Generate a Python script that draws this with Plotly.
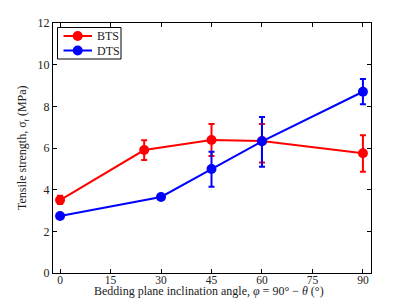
import plotly.graph_objects as go

bts_x = [0, 25, 45, 60, 90]
bts_y = [3.5, 5.9, 6.38, 6.34, 5.75]
bts_err_plus = [0.21, 0.47, 0.77, 0.81, 0.86]
bts_err_minus = [0.19, 0.48, 0.76, 1.04, 0.89]

dts_x = [0, 30, 45, 60, 90]
dts_y = [2.74, 3.65, 4.99, 6.32, 8.7]
dts_err_plus = [0.0, 0.0, 0.83, 1.17, 0.61]
dts_err_minus = [0.0, 0.0, 0.85, 1.22, 0.6]

x_ticks = [0, 15, 30, 45, 60, 75, 90]
y_ticks = [0, 2, 4, 6, 8, 10, 12]

series_names = ["BTS", "DTS"]
series_colors = ["#ff0000", "#0000ff"]

x_title = "Bedding plane inclination angle, <i>φ</i> = 90° − <i>θ</i> (°)"
y_title = "Tensile strength, σ<sub><i>t</i></sub> (MPa)"

font_family = "Liberation Serif"
OFF = 8  # default page body margin
W, H = 408 - 2 * OFF, 307 - 2 * OFF
# plot area in page pixels: x 53..371, y 23..273
ML = 53 - OFF
MT = 23 - OFF
MR = W - (371 - OFF)
MB = H - (273 - OFF)
PW, PH = W - ML - MR, H - MT - MB

fig = go.Figure()
for name, color, xs, ys, ep, em in [
    (series_names[0], series_colors[0], bts_x, bts_y, bts_err_plus, bts_err_minus),
    (series_names[1], series_colors[1], dts_x, dts_y, dts_err_plus, dts_err_minus),
]:
    fig.add_trace(go.Scatter(
        x=xs, y=ys, mode="lines+markers", name=name, showlegend=False,
        line=dict(color=color, width=2),
        marker=dict(color=color, size=10),
        error_y=dict(type="data", symmetric=False, array=ep, arrayminus=em,
                     color=color, thickness=2, width=3),
    ))

axis_common = dict(
    showline=True, linecolor="black", linewidth=1, mirror="ticks",
    ticks="inside", ticklen=4, tickcolor="black", showgrid=False, zeroline=False,
    automargin=False,
)

# helpers (page pixels -> paper coords)
def px(xp):
    return (xp - 53) / PW

def py(yp):
    return (273 - yp) / PH

text_font = dict(family=font_family, size=12, color="#222")

shapes = [dict(type="rect", xref="paper", yref="paper",
               x0=px(57.5), x1=px(121), y0=py(59), y1=py(27.5),
               line=dict(color="black", width=1), fillcolor="white", layer="above")]
annotations = []
for i, (name, color) in enumerate(zip(series_names, series_colors)):
    yrow = 36 + i * 14.5
    shapes.append(dict(type="line", xref="paper", yref="paper",
                       x0=px(63.5), x1=px(92), y0=py(yrow), y1=py(yrow),
                       line=dict(color=color, width=2), layer="above"))
    shapes.append(dict(type="circle", xref="paper", yref="paper",
                       x0=px(77.7 - 5), x1=px(77.7 + 5), y0=py(yrow + 5), y1=py(yrow - 5),
                       line=dict(color=color, width=0), fillcolor=color, layer="above"))
    annotations.append(dict(text=name, xref="paper", yref="paper",
                            x=px(94.5), y=py(yrow), xanchor="left", yanchor="middle",
                            showarrow=False, font=text_font))

annotations.append(dict(text=x_title, xref="paper", yref="paper",
                        x=px(209), y=py(299), xanchor="center", yanchor="bottom",
                        showarrow=False, borderpad=0,
                        font=dict(family=font_family, size=12, color="#222")))
annotations.append(dict(text=y_title, xref="paper", yref="paper",
                        x=px(23), y=py(148), xanchor="center", yanchor="middle",
                        textangle=-90, showarrow=False, font=text_font))

fig.update_layout(
    width=W, height=H,
    margin=dict(l=ML, r=MR, t=MT, b=MB),
    paper_bgcolor="white", plot_bgcolor="white",
    font=text_font,
    xaxis=dict(range=[-2.1, 92.4], tickvals=x_ticks, ticklabelstandoff=-4,
               tickfont=dict(family=font_family, size=11.5, color="#222"), **axis_common),
    yaxis=dict(range=[0, 12], tickvals=y_ticks,
               tickfont=dict(family=font_family, size=12, color="#222"), **axis_common),
    shapes=shapes,
    annotations=annotations,
    showlegend=False,
)

fig.write_html("out.html")
